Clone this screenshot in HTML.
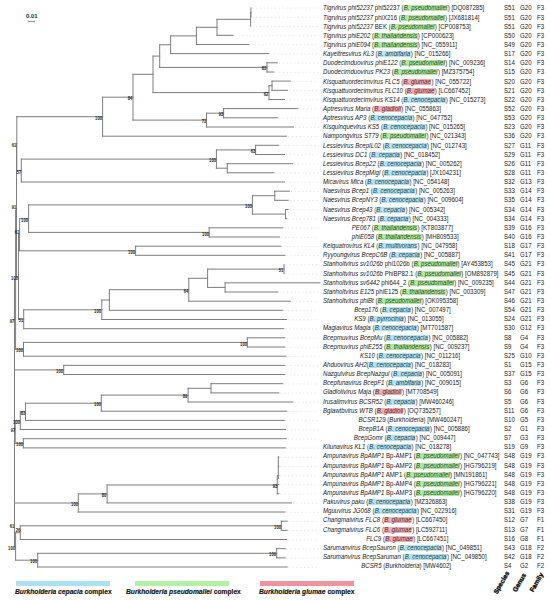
<!DOCTYPE html><html><head><meta charset="utf-8"><style>
html,body{margin:0;padding:0;background:#fff;}
body{width:550px;height:601px;position:relative;overflow:hidden;font-family:"Liberation Sans",sans-serif;}
.t{position:absolute;white-space:nowrap;font-size:6.60px;line-height:6.60px;color:#222;transform-origin:0 0;transform:scaleX(0.9242);}
.h{visibility:hidden}
.g{--c:#afe9a0;color:#2c4a28;} .b{--c:#b5e3f1;color:#243f4a;} .r{--c:#f3adb4;color:#4e2a2e;}
.hl{background:linear-gradient(transparent 10%, var(--c) 10%, var(--c) 93%, transparent 93%);}
.hl{padding:0 0.6px;margin-left:-0.4px;border-radius:1px;}
.c{position:absolute;white-space:nowrap;font-size:6.10px;line-height:6.10px;color:#222;}
.bs{position:absolute;font-size:4.8px;line-height:4.8px;color:#222;font-weight:bold;white-space:nowrap;transform-origin:100% 0;transform:scaleX(0.86);}
</style></head><body>

<svg width="550" height="601" style="position:absolute;left:0;top:0">
<line x1="252.4" y1="8.10" x2="319" y2="8.10" stroke="#dcdcdc" stroke-width="0.9" stroke-dasharray="1 2.8"/>
<line x1="252.4" y1="17.27" x2="319" y2="17.27" stroke="#dcdcdc" stroke-width="0.9" stroke-dasharray="1 2.8"/>
<line x1="252.1" y1="26.44" x2="319" y2="26.44" stroke="#dcdcdc" stroke-width="0.9" stroke-dasharray="1 2.8"/>
<line x1="234.7" y1="35.60" x2="319" y2="35.60" stroke="#dcdcdc" stroke-width="0.9" stroke-dasharray="1 2.8"/>
<line x1="250.7" y1="44.77" x2="319" y2="44.77" stroke="#dcdcdc" stroke-width="0.9" stroke-dasharray="1 2.8"/>
<line x1="270.4" y1="53.94" x2="319" y2="53.94" stroke="#dcdcdc" stroke-width="0.9" stroke-dasharray="1 2.8"/>
<line x1="279.0" y1="63.11" x2="319" y2="63.11" stroke="#dcdcdc" stroke-width="0.9" stroke-dasharray="1 2.8"/>
<line x1="275.5" y1="72.28" x2="319" y2="72.28" stroke="#dcdcdc" stroke-width="0.9" stroke-dasharray="1 2.8"/>
<line x1="292.0" y1="81.44" x2="319" y2="81.44" stroke="#dcdcdc" stroke-width="0.9" stroke-dasharray="1 2.8"/>
<line x1="289.2" y1="90.61" x2="319" y2="90.61" stroke="#dcdcdc" stroke-width="0.9" stroke-dasharray="1 2.8"/>
<line x1="286.2" y1="99.78" x2="319" y2="99.78" stroke="#dcdcdc" stroke-width="0.9" stroke-dasharray="1 2.8"/>
<line x1="299.5" y1="108.95" x2="319" y2="108.95" stroke="#dcdcdc" stroke-width="0.9" stroke-dasharray="1 2.8"/>
<line x1="279.5" y1="118.12" x2="319" y2="118.12" stroke="#dcdcdc" stroke-width="0.9" stroke-dasharray="1 2.8"/>
<line x1="295.3" y1="127.28" x2="319" y2="127.28" stroke="#dcdcdc" stroke-width="0.9" stroke-dasharray="1 2.8"/>
<line x1="288.3" y1="136.45" x2="319" y2="136.45" stroke="#dcdcdc" stroke-width="0.9" stroke-dasharray="1 2.8"/>
<line x1="280.5" y1="145.62" x2="319" y2="145.62" stroke="#dcdcdc" stroke-width="0.9" stroke-dasharray="1 2.8"/>
<line x1="286.2" y1="154.79" x2="319" y2="154.79" stroke="#dcdcdc" stroke-width="0.9" stroke-dasharray="1 2.8"/>
<line x1="294.2" y1="163.96" x2="319" y2="163.96" stroke="#dcdcdc" stroke-width="0.9" stroke-dasharray="1 2.8"/>
<line x1="275.7" y1="173.12" x2="319" y2="173.12" stroke="#dcdcdc" stroke-width="0.9" stroke-dasharray="1 2.8"/>
<line x1="286.2" y1="182.29" x2="319" y2="182.29" stroke="#dcdcdc" stroke-width="0.9" stroke-dasharray="1 2.8"/>
<line x1="291.0" y1="191.46" x2="319" y2="191.46" stroke="#dcdcdc" stroke-width="0.9" stroke-dasharray="1 2.8"/>
<line x1="289.9" y1="200.63" x2="319" y2="200.63" stroke="#dcdcdc" stroke-width="0.9" stroke-dasharray="1 2.8"/>
<line x1="289.9" y1="209.80" x2="319" y2="209.80" stroke="#dcdcdc" stroke-width="0.9" stroke-dasharray="1 2.8"/>
<line x1="288.5" y1="218.96" x2="319" y2="218.96" stroke="#dcdcdc" stroke-width="0.9" stroke-dasharray="1 2.8"/>
<line x1="284.5" y1="228.13" x2="319" y2="228.13" stroke="#dcdcdc" stroke-width="0.9" stroke-dasharray="1 2.8"/>
<line x1="281.1" y1="237.30" x2="319" y2="237.30" stroke="#dcdcdc" stroke-width="0.9" stroke-dasharray="1 2.8"/>
<line x1="282.7" y1="246.47" x2="319" y2="246.47" stroke="#dcdcdc" stroke-width="0.9" stroke-dasharray="1 2.8"/>
<line x1="286.6" y1="255.64" x2="319" y2="255.64" stroke="#dcdcdc" stroke-width="0.9" stroke-dasharray="1 2.8"/>
<line x1="285.5" y1="264.80" x2="319" y2="264.80" stroke="#dcdcdc" stroke-width="0.9" stroke-dasharray="1 2.8"/>
<line x1="285.5" y1="273.97" x2="319" y2="273.97" stroke="#dcdcdc" stroke-width="0.9" stroke-dasharray="1 2.8"/>
<line x1="279.5" y1="292.31" x2="319" y2="292.31" stroke="#dcdcdc" stroke-width="0.9" stroke-dasharray="1 2.8"/>
<line x1="292.0" y1="301.48" x2="319" y2="301.48" stroke="#dcdcdc" stroke-width="0.9" stroke-dasharray="1 2.8"/>
<line x1="284.5" y1="310.64" x2="319" y2="310.64" stroke="#dcdcdc" stroke-width="0.9" stroke-dasharray="1 2.8"/>
<line x1="288.3" y1="319.81" x2="319" y2="319.81" stroke="#dcdcdc" stroke-width="0.9" stroke-dasharray="1 2.8"/>
<line x1="285.5" y1="328.98" x2="319" y2="328.98" stroke="#dcdcdc" stroke-width="0.9" stroke-dasharray="1 2.8"/>
<line x1="286.5" y1="338.15" x2="319" y2="338.15" stroke="#dcdcdc" stroke-width="0.9" stroke-dasharray="1 2.8"/>
<line x1="286.5" y1="347.32" x2="319" y2="347.32" stroke="#dcdcdc" stroke-width="0.9" stroke-dasharray="1 2.8"/>
<line x1="287.8" y1="356.48" x2="319" y2="356.48" stroke="#dcdcdc" stroke-width="0.9" stroke-dasharray="1 2.8"/>
<line x1="286.5" y1="365.65" x2="319" y2="365.65" stroke="#dcdcdc" stroke-width="0.9" stroke-dasharray="1 2.8"/>
<line x1="286.5" y1="374.82" x2="319" y2="374.82" stroke="#dcdcdc" stroke-width="0.9" stroke-dasharray="1 2.8"/>
<line x1="284.5" y1="383.99" x2="319" y2="383.99" stroke="#dcdcdc" stroke-width="0.9" stroke-dasharray="1 2.8"/>
<line x1="280.5" y1="393.16" x2="319" y2="393.16" stroke="#dcdcdc" stroke-width="0.9" stroke-dasharray="1 2.8"/>
<line x1="294.6" y1="402.32" x2="319" y2="402.32" stroke="#dcdcdc" stroke-width="0.9" stroke-dasharray="1 2.8"/>
<line x1="288.6" y1="411.49" x2="319" y2="411.49" stroke="#dcdcdc" stroke-width="0.9" stroke-dasharray="1 2.8"/>
<line x1="286.0" y1="420.66" x2="319" y2="420.66" stroke="#dcdcdc" stroke-width="0.9" stroke-dasharray="1 2.8"/>
<line x1="287.2" y1="429.83" x2="319" y2="429.83" stroke="#dcdcdc" stroke-width="0.9" stroke-dasharray="1 2.8"/>
<line x1="288.0" y1="439.00" x2="319" y2="439.00" stroke="#dcdcdc" stroke-width="0.9" stroke-dasharray="1 2.8"/>
<line x1="287.1" y1="448.16" x2="319" y2="448.16" stroke="#dcdcdc" stroke-width="0.9" stroke-dasharray="1 2.8"/>
<line x1="280.5" y1="457.33" x2="319" y2="457.33" stroke="#dcdcdc" stroke-width="0.9" stroke-dasharray="1 2.8"/>
<line x1="280.5" y1="466.50" x2="319" y2="466.50" stroke="#dcdcdc" stroke-width="0.9" stroke-dasharray="1 2.8"/>
<line x1="280.5" y1="475.67" x2="319" y2="475.67" stroke="#dcdcdc" stroke-width="0.9" stroke-dasharray="1 2.8"/>
<line x1="280.5" y1="484.84" x2="319" y2="484.84" stroke="#dcdcdc" stroke-width="0.9" stroke-dasharray="1 2.8"/>
<line x1="280.5" y1="494.00" x2="319" y2="494.00" stroke="#dcdcdc" stroke-width="0.9" stroke-dasharray="1 2.8"/>
<line x1="293.0" y1="503.17" x2="319" y2="503.17" stroke="#dcdcdc" stroke-width="0.9" stroke-dasharray="1 2.8"/>
<line x1="286.6" y1="512.34" x2="319" y2="512.34" stroke="#dcdcdc" stroke-width="0.9" stroke-dasharray="1 2.8"/>
<line x1="288.9" y1="521.51" x2="319" y2="521.51" stroke="#dcdcdc" stroke-width="0.9" stroke-dasharray="1 2.8"/>
<line x1="288.9" y1="530.68" x2="319" y2="530.68" stroke="#dcdcdc" stroke-width="0.9" stroke-dasharray="1 2.8"/>
<line x1="288.4" y1="539.84" x2="319" y2="539.84" stroke="#dcdcdc" stroke-width="0.9" stroke-dasharray="1 2.8"/>
<line x1="287.1" y1="549.01" x2="319" y2="549.01" stroke="#dcdcdc" stroke-width="0.9" stroke-dasharray="1 2.8"/>
<line x1="287.1" y1="558.18" x2="319" y2="558.18" stroke="#dcdcdc" stroke-width="0.9" stroke-dasharray="1 2.8"/>
<line x1="288.9" y1="567.35" x2="319" y2="567.35" stroke="#dcdcdc" stroke-width="0.9" stroke-dasharray="1 2.8"/>
<g stroke="#7e7e7e" stroke-width="1" fill="none" stroke-linecap="square">
<line x1="250.9" y1="7.8" x2="250.9" y2="17.0"/>
<line x1="250.6" y1="12.4" x2="250.6" y2="26.1"/>
<line x1="250.6" y1="12.4" x2="250.9" y2="12.4"/>
<line x1="217.0" y1="19.3" x2="217.0" y2="35.3"/>
<line x1="217.0" y1="19.3" x2="250.6" y2="19.3"/>
<line x1="196.4" y1="27.3" x2="196.4" y2="44.5"/>
<line x1="196.4" y1="27.3" x2="217.0" y2="27.3"/>
<line x1="170.6" y1="35.9" x2="170.6" y2="53.6"/>
<line x1="170.6" y1="35.9" x2="196.4" y2="35.9"/>
<line x1="267.0" y1="62.8" x2="267.0" y2="72.0"/>
<line x1="159.7" y1="44.8" x2="159.7" y2="67.4"/>
<line x1="159.7" y1="44.8" x2="170.6" y2="44.8"/>
<line x1="159.7" y1="67.4" x2="267.0" y2="67.4"/>
<line x1="272.0" y1="81.1" x2="272.0" y2="90.3"/>
<line x1="269.0" y1="85.7" x2="269.0" y2="99.5"/>
<line x1="269.0" y1="85.7" x2="272.0" y2="85.7"/>
<line x1="153.0" y1="56.1" x2="153.0" y2="92.6"/>
<line x1="153.0" y1="56.1" x2="159.7" y2="56.1"/>
<line x1="153.0" y1="92.6" x2="269.0" y2="92.6"/>
<line x1="223.6" y1="108.6" x2="223.6" y2="117.8"/>
<line x1="206.5" y1="113.2" x2="206.5" y2="127.0"/>
<line x1="206.5" y1="113.2" x2="223.6" y2="113.2"/>
<line x1="133.0" y1="74.3" x2="133.0" y2="120.1"/>
<line x1="133.0" y1="74.3" x2="153.0" y2="74.3"/>
<line x1="133.0" y1="120.1" x2="206.5" y2="120.1"/>
<line x1="102.6" y1="97.2" x2="102.6" y2="136.2"/>
<line x1="102.6" y1="97.2" x2="133.0" y2="97.2"/>
<line x1="255.6" y1="145.3" x2="255.6" y2="154.5"/>
<line x1="227.3" y1="163.7" x2="227.3" y2="172.8"/>
<line x1="216.4" y1="149.9" x2="216.4" y2="168.2"/>
<line x1="216.4" y1="149.9" x2="255.6" y2="149.9"/>
<line x1="216.4" y1="168.2" x2="227.3" y2="168.2"/>
<line x1="21.3" y1="159.1" x2="21.3" y2="182.0"/>
<line x1="21.3" y1="159.1" x2="216.4" y2="159.1"/>
<line x1="16.8" y1="116.7" x2="16.8" y2="170.5"/>
<line x1="16.8" y1="116.7" x2="102.6" y2="116.7"/>
<line x1="16.8" y1="170.5" x2="21.3" y2="170.5"/>
<line x1="274.8" y1="191.2" x2="274.8" y2="200.3"/>
<line x1="285.5" y1="209.5" x2="285.5" y2="218.7"/>
<line x1="252.4" y1="195.7" x2="252.4" y2="214.1"/>
<line x1="252.4" y1="195.7" x2="274.8" y2="195.7"/>
<line x1="252.4" y1="214.1" x2="285.5" y2="214.1"/>
<line x1="209.2" y1="227.8" x2="209.2" y2="237.0"/>
<line x1="28.6" y1="204.9" x2="28.6" y2="232.4"/>
<line x1="28.6" y1="204.9" x2="252.4" y2="204.9"/>
<line x1="28.6" y1="232.4" x2="209.2" y2="232.4"/>
<line x1="135.6" y1="246.2" x2="135.6" y2="255.3"/>
<line x1="19.6" y1="218.7" x2="19.6" y2="250.8"/>
<line x1="19.6" y1="218.7" x2="28.6" y2="218.7"/>
<line x1="19.6" y1="250.8" x2="135.6" y2="250.8"/>
<line x1="284.0" y1="264.5" x2="284.0" y2="273.7"/>
<line x1="225.1" y1="282.8" x2="225.1" y2="292.0"/>
<line x1="207.6" y1="269.1" x2="207.6" y2="287.4"/>
<line x1="207.6" y1="269.1" x2="284.0" y2="269.1"/>
<line x1="207.6" y1="287.4" x2="225.1" y2="287.4"/>
<line x1="188.8" y1="278.3" x2="188.8" y2="301.2"/>
<line x1="188.8" y1="278.3" x2="207.6" y2="278.3"/>
<line x1="109.4" y1="289.7" x2="109.4" y2="310.3"/>
<line x1="109.4" y1="289.7" x2="188.8" y2="289.7"/>
<line x1="101.8" y1="300.0" x2="101.8" y2="319.5"/>
<line x1="101.8" y1="300.0" x2="109.4" y2="300.0"/>
<line x1="23.7" y1="309.8" x2="23.7" y2="328.7"/>
<line x1="23.7" y1="309.8" x2="101.8" y2="309.8"/>
<line x1="18.5" y1="234.7" x2="18.5" y2="319.2"/>
<line x1="18.5" y1="234.7" x2="19.6" y2="234.7"/>
<line x1="18.5" y1="319.2" x2="23.7" y2="319.2"/>
<line x1="16.5" y1="143.6" x2="16.5" y2="277.0"/>
<line x1="16.5" y1="143.6" x2="16.8" y2="143.6"/>
<line x1="16.5" y1="277.0" x2="18.5" y2="277.0"/>
<line x1="247.3" y1="337.8" x2="247.3" y2="347.0"/>
<line x1="23.5" y1="342.4" x2="23.5" y2="356.2"/>
<line x1="23.5" y1="342.4" x2="247.3" y2="342.4"/>
<line x1="63.7" y1="365.4" x2="63.7" y2="374.5"/>
<line x1="211.0" y1="383.7" x2="211.0" y2="392.9"/>
<line x1="188.1" y1="388.3" x2="188.1" y2="402.0"/>
<line x1="188.1" y1="388.3" x2="211.0" y2="388.3"/>
<line x1="101.3" y1="395.1" x2="101.3" y2="411.2"/>
<line x1="101.3" y1="395.1" x2="188.1" y2="395.1"/>
<line x1="25.5" y1="403.2" x2="25.5" y2="420.4"/>
<line x1="25.5" y1="403.2" x2="101.3" y2="403.2"/>
<line x1="20.3" y1="411.8" x2="20.3" y2="429.5"/>
<line x1="20.3" y1="411.8" x2="25.5" y2="411.8"/>
<line x1="23.3" y1="438.7" x2="23.3" y2="447.9"/>
<line x1="15.2" y1="420.6" x2="15.2" y2="443.3"/>
<line x1="15.2" y1="420.6" x2="20.3" y2="420.6"/>
<line x1="15.2" y1="443.3" x2="23.3" y2="443.3"/>
<line x1="15.6" y1="210.3" x2="15.6" y2="349.3"/>
<line x1="15.6" y1="210.3" x2="16.5" y2="210.3"/>
<line x1="15.6" y1="349.3" x2="23.5" y2="349.3"/>
<line x1="14.5" y1="279.8" x2="14.5" y2="369.9"/>
<line x1="14.5" y1="279.8" x2="15.6" y2="279.8"/>
<line x1="14.5" y1="369.9" x2="63.7" y2="369.9"/>
<line x1="107.1" y1="485.0" x2="107.1" y2="502.9"/>
<line x1="107.1" y1="485.0" x2="277.3" y2="485.0"/>
<line x1="78.3" y1="493.9" x2="78.3" y2="512.0"/>
<line x1="78.3" y1="493.9" x2="107.1" y2="493.9"/>
<line x1="281.3" y1="521.2" x2="281.3" y2="530.4"/>
<line x1="20.3" y1="525.8" x2="20.3" y2="539.5"/>
<line x1="20.3" y1="525.8" x2="281.3" y2="525.8"/>
<line x1="276.7" y1="548.7" x2="276.7" y2="557.9"/>
<line x1="37.7" y1="553.3" x2="37.7" y2="567.0"/>
<line x1="37.7" y1="553.3" x2="276.7" y2="553.3"/>
<line x1="15.6" y1="532.7" x2="15.6" y2="560.2"/>
<line x1="15.6" y1="532.7" x2="20.3" y2="532.7"/>
<line x1="15.6" y1="560.2" x2="37.7" y2="560.2"/>
<line x1="14.5" y1="503.0" x2="14.5" y2="546.4"/>
<line x1="14.5" y1="503.0" x2="78.3" y2="503.0"/>
<line x1="14.5" y1="546.4" x2="15.6" y2="546.4"/>
<line x1="14.5" y1="324.9" x2="14.5" y2="524.7"/>
<line x1="14.5" y1="324.9" x2="14.5" y2="324.9"/>
<line x1="14.5" y1="432.0" x2="15.2" y2="432.0"/>
<line x1="14.5" y1="524.7" x2="14.5" y2="524.7"/>
<line x1="217.0" y1="35.3" x2="233.0" y2="35.3"/>
<line x1="196.4" y1="44.5" x2="249.0" y2="44.5"/>
<line x1="170.6" y1="53.6" x2="268.7" y2="53.6"/>
<line x1="267.0" y1="62.8" x2="277.3" y2="62.8"/>
<line x1="267.0" y1="72.0" x2="273.8" y2="72.0"/>
<line x1="272.0" y1="81.1" x2="290.3" y2="81.1"/>
<line x1="272.0" y1="90.3" x2="287.5" y2="90.3"/>
<line x1="269.0" y1="99.5" x2="284.5" y2="99.5"/>
<line x1="223.6" y1="108.6" x2="297.8" y2="108.6"/>
<line x1="223.6" y1="117.8" x2="277.8" y2="117.8"/>
<line x1="206.5" y1="127.0" x2="293.6" y2="127.0"/>
<line x1="102.6" y1="136.2" x2="286.6" y2="136.2"/>
<line x1="255.6" y1="145.3" x2="278.8" y2="145.3"/>
<line x1="255.6" y1="154.5" x2="284.5" y2="154.5"/>
<line x1="227.3" y1="163.7" x2="292.5" y2="163.7"/>
<line x1="227.3" y1="172.8" x2="274.0" y2="172.8"/>
<line x1="21.3" y1="182.0" x2="284.5" y2="182.0"/>
<line x1="274.8" y1="191.2" x2="289.3" y2="191.2"/>
<line x1="274.8" y1="200.3" x2="288.2" y2="200.3"/>
<line x1="285.5" y1="209.5" x2="288.2" y2="209.5"/>
<line x1="285.5" y1="218.7" x2="286.8" y2="218.7"/>
<line x1="209.2" y1="227.8" x2="282.8" y2="227.8"/>
<line x1="209.2" y1="237.0" x2="279.4" y2="237.0"/>
<line x1="135.6" y1="246.2" x2="281.0" y2="246.2"/>
<line x1="135.6" y1="255.3" x2="284.9" y2="255.3"/>
<line x1="225.1" y1="282.8" x2="319.8" y2="282.8"/>
<line x1="225.1" y1="292.0" x2="277.8" y2="292.0"/>
<line x1="188.8" y1="301.2" x2="290.3" y2="301.2"/>
<line x1="109.4" y1="310.3" x2="282.8" y2="310.3"/>
<line x1="101.8" y1="319.5" x2="286.6" y2="319.5"/>
<line x1="23.7" y1="328.7" x2="283.8" y2="328.7"/>
<line x1="247.3" y1="337.8" x2="284.8" y2="337.8"/>
<line x1="247.3" y1="347.0" x2="284.8" y2="347.0"/>
<line x1="23.5" y1="356.2" x2="286.1" y2="356.2"/>
<line x1="63.7" y1="365.4" x2="284.8" y2="365.4"/>
<line x1="63.7" y1="374.5" x2="284.8" y2="374.5"/>
<line x1="211.0" y1="383.7" x2="282.8" y2="383.7"/>
<line x1="211.0" y1="392.9" x2="278.8" y2="392.9"/>
<line x1="188.1" y1="402.0" x2="292.9" y2="402.0"/>
<line x1="101.3" y1="411.2" x2="286.9" y2="411.2"/>
<line x1="25.5" y1="420.4" x2="284.3" y2="420.4"/>
<line x1="20.3" y1="429.5" x2="285.5" y2="429.5"/>
<line x1="23.3" y1="438.7" x2="286.3" y2="438.7"/>
<line x1="23.3" y1="447.9" x2="285.4" y2="447.9"/>
<line x1="278.3" y1="457.0" x2="278.8" y2="457.0"/>
<line x1="278.3" y1="466.2" x2="278.8" y2="466.2"/>
<line x1="278.3" y1="475.4" x2="278.8" y2="475.4"/>
<line x1="277.3" y1="484.5" x2="278.8" y2="484.5"/>
<line x1="277.3" y1="493.7" x2="278.8" y2="493.7"/>
<line x1="107.1" y1="502.9" x2="291.3" y2="502.9"/>
<line x1="78.3" y1="512.0" x2="284.9" y2="512.0"/>
<line x1="281.3" y1="521.2" x2="287.2" y2="521.2"/>
<line x1="281.3" y1="530.4" x2="287.2" y2="530.4"/>
<line x1="20.3" y1="539.5" x2="286.7" y2="539.5"/>
<line x1="276.7" y1="548.7" x2="285.4" y2="548.7"/>
<line x1="276.7" y1="557.9" x2="285.4" y2="557.9"/>
<line x1="37.7" y1="567.0" x2="287.2" y2="567.0"/>
<line x1="278.3" y1="457.0" x2="278.3" y2="478.5"/>
<line x1="277.3" y1="475.5" x2="277.3" y2="493.7"/>
</g>
<line x1="28.3" y1="21.5" x2="34.5" y2="21.5" stroke="#777" stroke-width="0.8"/>
<line x1="28.3" y1="20.5" x2="28.3" y2="22.3" stroke="#888" stroke-width="0.6"/>
<line x1="34.5" y1="20.5" x2="34.5" y2="22.3" stroke="#888" stroke-width="0.6"/>
</svg>
<div class="c" style="left:25.9px;top:13.0px;font-size:6.0px;color:#333;font-weight:bold">0.01</div>
<div class="bs" style="right:283.30px;top:67.49px">83</div>
<div class="bs" style="right:281.30px;top:92.70px">62</div>
<div class="bs" style="right:326.70px;top:113.33px">93</div>
<div class="bs" style="right:343.80px;top:120.21px">72</div>
<div class="bs" style="right:417.30px;top:97.32px">84</div>
<div class="bs" style="right:447.70px;top:116.79px">100</div>
<div class="bs" style="right:294.70px;top:150.00px">63</div>
<div class="bs" style="right:333.90px;top:159.17px">100</div>
<div class="bs" style="right:529.00px;top:170.63px">57</div>
<div class="bs" style="right:533.50px;top:143.71px">61</div>
<div class="bs" style="right:297.90px;top:205.01px">100</div>
<div class="bs" style="right:341.10px;top:232.52px">100</div>
<div class="bs" style="right:521.70px;top:218.76px">100</div>
<div class="bs" style="right:414.70px;top:250.85px">100</div>
<div class="bs" style="right:530.70px;top:231.25px">61</div>
<div class="bs" style="right:266.30px;top:269.19px">51</div>
<div class="bs" style="right:361.50px;top:289.82px">64</div>
<div class="bs" style="right:448.50px;top:309.87px">100</div>
<div class="bs" style="right:526.60px;top:319.33px">51</div>
<div class="bs" style="right:531.80px;top:277.07px">100</div>
<div class="bs" style="right:533.80px;top:205.75px">91</div>
<div class="bs" style="right:303.00px;top:342.53px">100</div>
<div class="bs" style="right:526.80px;top:349.41px">100</div>
<div class="bs" style="right:486.60px;top:370.04px">100</div>
<div class="bs" style="right:362.20px;top:395.25px">89</div>
<div class="bs" style="right:449.00px;top:403.27px">100</div>
<div class="bs" style="right:524.80px;top:411.87px">83</div>
<div class="bs" style="right:530.00px;top:420.75px">100</div>
<div class="bs" style="right:527.00px;top:443.38px">100</div>
<div class="bs" style="right:535.10px;top:428.75px">97</div>
<div class="bs" style="right:535.80px;top:320.45px">97</div>
<div class="bs" style="right:273.00px;top:485.10px">93</div>
<div class="bs" style="right:443.20px;top:494.04px">80</div>
<div class="bs" style="right:472.00px;top:503.09px">100</div>
<div class="bs" style="right:269.00px;top:525.89px">100</div>
<div class="bs" style="right:530.00px;top:528.75px">26</div>
<div class="bs" style="right:273.60px;top:553.40px">100</div>
<div class="bs" style="right:512.60px;top:560.27px">100</div>
<div class="bs" style="right:534.70px;top:546.52px">100</div>
<div class="bs" style="right:535.80px;top:524.80px">61</div>
<div class="t" style="left:322.7px;top:5.46px"><i>Tigrvirus phi52237</i> phi52237 (<i class="hl g">B. pseudomallei</i>) [DQ087285]</div>
<div class="t" style="left:504px;top:5.46px">S51</div>
<div class="t" style="left:519.8px;top:5.46px">G20</div>
<div class="t" style="left:537.3px;top:5.46px">F3</div>
<div class="t" style="left:322.7px;top:15.46px"><i>Tigrvirus phi52237</i> phiX216 (<i class="hl g">B. pseudomallei</i>) [JX681814]</div>
<div class="t" style="left:504px;top:15.46px">S51</div>
<div class="t" style="left:519.8px;top:15.46px">G20</div>
<div class="t" style="left:537.3px;top:15.46px">F3</div>
<div class="t" style="left:322.7px;top:24.46px"><i>Tigrvirus phi52237</i> BEK (<i class="hl g">B. pseudomallei</i>) [CP008753]</div>
<div class="t" style="left:504px;top:24.46px">S51</div>
<div class="t" style="left:519.8px;top:24.46px">G20</div>
<div class="t" style="left:537.3px;top:24.46px">F3</div>
<div class="t" style="left:322.7px;top:33.46px"><i>Tigrvirus phiE202</i> (<i class="hl g">B. thailandensis</i>) [CP000623]</div>
<div class="t" style="left:504px;top:33.46px">S50</div>
<div class="t" style="left:519.8px;top:33.46px">G20</div>
<div class="t" style="left:537.3px;top:33.46px">F3</div>
<div class="t" style="left:322.7px;top:42.46px"><i>Tigrvirus phiE094</i> (<i class="hl g">B. thailandensis</i>) [NC_055911]</div>
<div class="t" style="left:504px;top:42.46px">S49</div>
<div class="t" style="left:519.8px;top:42.46px">G20</div>
<div class="t" style="left:537.3px;top:42.46px">F3</div>
<div class="t" style="left:322.7px;top:51.46px"><i>Kayeltresvirus KL3</i> (<i class="hl b">B. ambifaria</i>) [NC_015266]</div>
<div class="t" style="left:504px;top:51.46px">S17</div>
<div class="t" style="left:519.8px;top:51.46px">G20</div>
<div class="t" style="left:537.3px;top:51.46px">F3</div>
<div class="t" style="left:322.7px;top:60.46px"><i>Duodecimduovirus phiE122</i> (<i class="hl g">B. pseudomallei</i>) [NC_009236]</div>
<div class="t" style="left:504px;top:60.46px">S14</div>
<div class="t" style="left:519.8px;top:60.46px">G20</div>
<div class="t" style="left:537.3px;top:60.46px">F3</div>
<div class="t" style="left:322.7px;top:69.46px"><i>Duodecimduovirus PK23</i> (<i class="hl g">B. pseudomallei</i>) [MZ375754]</div>
<div class="t" style="left:504px;top:69.46px">S15</div>
<div class="t" style="left:519.8px;top:69.46px">G20</div>
<div class="t" style="left:537.3px;top:69.46px">F3</div>
<div class="t" style="left:322.7px;top:79.46px"><i>Kisquattuordecimvirus FLC5</i> (<i class="hl r">B. glumae</i>) [NC_055722]</div>
<div class="t" style="left:504px;top:79.46px">S20</div>
<div class="t" style="left:519.8px;top:79.46px">G20</div>
<div class="t" style="left:537.3px;top:79.46px">F3</div>
<div class="t" style="left:322.7px;top:88.46px"><i>Kisquattuordecimvirus FLC10</i> (<i class="hl r">B. glumae</i>) [LC667452]</div>
<div class="t" style="left:504px;top:88.46px">S21</div>
<div class="t" style="left:519.8px;top:88.46px">G20</div>
<div class="t" style="left:537.3px;top:88.46px">F3</div>
<div class="t" style="left:322.7px;top:97.46px"><i>Kisquattuordecimvirus KS14</i> (<i class="hl b">B. cenocepacia</i>) [NC_015273]</div>
<div class="t" style="left:504px;top:97.46px">S22</div>
<div class="t" style="left:519.8px;top:97.46px">G20</div>
<div class="t" style="left:537.3px;top:97.46px">F3</div>
<div class="t" style="left:322.7px;top:106.46px"><i>Aptresvirus Maria</i> (<i class="hl r">B. gladioli</i>) [NC_055863]</div>
<div class="t" style="left:504px;top:106.46px">S52</div>
<div class="t" style="left:519.8px;top:106.46px">G20</div>
<div class="t" style="left:537.3px;top:106.46px">F3</div>
<div class="t" style="left:322.7px;top:115.46px"><i>Aptresvirus AP3</i> (<i class="hl b">B. cenocepacia</i>) [NC_047752]</div>
<div class="t" style="left:504px;top:115.46px">S53</div>
<div class="t" style="left:519.8px;top:115.46px">G20</div>
<div class="t" style="left:537.3px;top:115.46px">F3</div>
<div class="t" style="left:322.7px;top:124.46px"><i>Kisquinquevirus KS5</i> (<i class="hl b">B. cenocepacia</i>) [NC_015265]</div>
<div class="t" style="left:504px;top:124.46px">S23</div>
<div class="t" style="left:519.8px;top:124.46px">G20</div>
<div class="t" style="left:537.3px;top:124.46px">F3</div>
<div class="t" style="left:322.7px;top:133.46px"><i>Nampongvirus ST79</i> (<i class="hl g">B. pseudomallei</i>) [NC_021343]</div>
<div class="t" style="left:504px;top:133.46px">S36</div>
<div class="t" style="left:519.8px;top:133.46px">G20</div>
<div class="t" style="left:537.3px;top:133.46px">F3</div>
<div class="t" style="left:322.7px;top:143.46px"><i>Lessievirus BcepIL02</i> (<i class="hl b">B. cenocepacia</i>) [NC_012743]</div>
<div class="t" style="left:504px;top:143.46px">S27</div>
<div class="t" style="left:519.8px;top:143.46px">G11</div>
<div class="t" style="left:537.3px;top:143.46px">F3</div>
<div class="t" style="left:322.7px;top:152.46px"><i>Lessievirus DC1</i> (<i class="hl b">B. cepacia</i>) [NC_018452]</div>
<div class="t" style="left:504px;top:152.46px">S29</div>
<div class="t" style="left:519.8px;top:152.46px">G11</div>
<div class="t" style="left:537.3px;top:152.46px">F3</div>
<div class="t" style="left:322.7px;top:161.46px"><i>Lessievirus Bcep22</i> (<i class="hl b">B. cenocepacia</i>) [NC_005262]</div>
<div class="t" style="left:504px;top:161.46px">S26</div>
<div class="t" style="left:519.8px;top:161.46px">G11</div>
<div class="t" style="left:537.3px;top:161.46px">F3</div>
<div class="t" style="left:322.7px;top:170.46px"><i>Lessievirus BcepMigl</i> (<i class="hl b">B. cenocepacia</i>) [JX104231]</div>
<div class="t" style="left:504px;top:170.46px">S28</div>
<div class="t" style="left:519.8px;top:170.46px">G11</div>
<div class="t" style="left:537.3px;top:170.46px">F3</div>
<div class="t" style="left:322.7px;top:179.46px"><i>Micavirus Mica</i> (<i class="hl b">B. cenocepacia</i>) [NC_054148]</div>
<div class="t" style="left:504px;top:179.46px">S32</div>
<div class="t" style="left:519.8px;top:179.46px">G13</div>
<div class="t" style="left:537.3px;top:179.46px">F3</div>
<div class="t" style="left:322.7px;top:188.46px"><i>Naesvirus Bcep1</i> (<i class="hl b">B. cenocepacia</i>) [NC_005263]</div>
<div class="t" style="left:504px;top:188.46px">S33</div>
<div class="t" style="left:519.8px;top:188.46px">G14</div>
<div class="t" style="left:537.3px;top:188.46px">F3</div>
<div class="t" style="left:322.7px;top:197.46px"><i>Naesvirus BcepNY3</i> (<i class="hl b">B. cenocepacia</i>) [NC_009604]</div>
<div class="t" style="left:504px;top:197.46px">S35</div>
<div class="t" style="left:519.8px;top:197.46px">G14</div>
<div class="t" style="left:537.3px;top:197.46px">F3</div>
<div class="t" style="left:322.7px;top:207.46px"><i>Naesvirus Bcep43</i> (<i class="hl b">B. cepacia</i>) [NC_005342]</div>
<div class="t" style="left:504px;top:207.46px">S34</div>
<div class="t" style="left:519.8px;top:207.46px">G14</div>
<div class="t" style="left:537.3px;top:207.46px">F3</div>
<div class="t" style="left:322.7px;top:216.46px"><i>Naesvirus Bcep781</i> (<i class="hl b">B. cepacia</i>) [NC_004333]</div>
<div class="t" style="left:504px;top:216.46px">S34</div>
<div class="t" style="left:519.8px;top:216.46px">G14</div>
<div class="t" style="left:537.3px;top:216.46px">F3</div>
<div class="t" style="left:322.7px;top:225.46px"><i class="h" style="margin-right:0.0px">Naesvirus </i><i>PE067</i> (<i class="hl g">B. thailandensis</i>) [KT803877]</div>
<div class="t" style="left:504px;top:225.46px">S39</div>
<div class="t" style="left:519.8px;top:225.46px">G16</div>
<div class="t" style="left:537.3px;top:225.46px">F3</div>
<div class="t" style="left:322.7px;top:234.46px"><i class="h" style="margin-right:0.0px">Naesvirus </i><i>phiE058</i> (<i class="hl g">B. thailandensis</i>) [MH809533]</div>
<div class="t" style="left:504px;top:234.46px">S40</div>
<div class="t" style="left:519.8px;top:234.46px">G16</div>
<div class="t" style="left:537.3px;top:234.46px">F3</div>
<div class="t" style="left:322.7px;top:243.46px"><i>Kelquatrovirus KL4</i> (<i class="hl b">B. multivorans</i>) [NC_047958]</div>
<div class="t" style="left:504px;top:243.46px">S18</div>
<div class="t" style="left:519.8px;top:243.46px">G17</div>
<div class="t" style="left:537.3px;top:243.46px">F3</div>
<div class="t" style="left:322.7px;top:252.46px"><i>Ryyoungvirus BcepC6B</i> (<i class="hl b">B. cepacia</i>) [NC_005887]</div>
<div class="t" style="left:504px;top:252.46px">S41</div>
<div class="t" style="left:519.8px;top:252.46px">G17</div>
<div class="t" style="left:537.3px;top:252.46px">F3</div>
<div class="t" style="left:322.7px;top:261.46px"><i>Stanholtvirus sv1026b</i> phi1026b (<i class="hl g">B. pseudomallei</i>) [AY453853]</div>
<div class="t" style="left:504px;top:261.46px">S45</div>
<div class="t" style="left:519.8px;top:261.46px">G21</div>
<div class="t" style="left:537.3px;top:261.46px">F3</div>
<div class="t" style="left:322.7px;top:271.46px"><i>Stanholtvirus sv1026b</i> PhiBP82.1 (<i class="hl g">B. pseudomallei</i>) [OM892879]</div>
<div class="t" style="left:504px;top:271.46px">S45</div>
<div class="t" style="left:519.8px;top:271.46px">G21</div>
<div class="t" style="left:537.3px;top:271.46px">F3</div>
<div class="t" style="left:322.7px;top:280.46px"><i>Stanholtvirus sv6442</i> phi644_2 (<i class="hl g">B. pseudomallei</i>) [NC_009235]</div>
<div class="t" style="left:504px;top:280.46px">S44</div>
<div class="t" style="left:519.8px;top:280.46px">G21</div>
<div class="t" style="left:537.3px;top:280.46px">F3</div>
<div class="t" style="left:322.7px;top:289.46px"><i>Stanholtvirus E125</i> phiE125 (<i class="hl g">B. thailandensis</i>) [NC_003309]</div>
<div class="t" style="left:504px;top:289.46px">S47</div>
<div class="t" style="left:519.8px;top:289.46px">G21</div>
<div class="t" style="left:537.3px;top:289.46px">F3</div>
<div class="t" style="left:322.7px;top:298.46px"><i>Stanholtvirus phiBt</i> (<i class="hl g">B. pseudomallei</i>) [OK095358]</div>
<div class="t" style="left:504px;top:298.46px">S46</div>
<div class="t" style="left:519.8px;top:298.46px">G21</div>
<div class="t" style="left:537.3px;top:298.46px">F3</div>
<div class="t" style="left:322.7px;top:307.46px"><i class="h" style="margin-right:0.0px">Magiavirus </i><i>Bcep176</i> (<i class="hl b">B. cepacia</i>) [NC_007497]</div>
<div class="t" style="left:504px;top:307.46px">S54</div>
<div class="t" style="left:519.8px;top:307.46px">G21</div>
<div class="t" style="left:537.3px;top:307.46px">F3</div>
<div class="t" style="left:322.7px;top:316.46px"><i class="h" style="margin-right:0.0px">Magiavirus </i><i>KS9</i> (<i class="hl b">B. pyrrocinia</i>) [NC_013055]</div>
<div class="t" style="left:504px;top:316.46px">S24</div>
<div class="t" style="left:519.8px;top:316.46px">G21</div>
<div class="t" style="left:537.3px;top:316.46px">F3</div>
<div class="t" style="left:322.7px;top:325.46px"><i>Magiavirus Magia</i> (<i class="hl b">B. cenocepacia</i>) [MT701587]</div>
<div class="t" style="left:504px;top:325.46px">S30</div>
<div class="t" style="left:519.8px;top:325.46px">G12</div>
<div class="t" style="left:537.3px;top:325.46px">F3</div>
<div class="t" style="left:322.7px;top:335.46px"><i>Bcepmuvirus BcepMu</i> (<i class="hl b">B. cenocepacia</i>) [NC_005882]</div>
<div class="t" style="left:504px;top:335.46px">S8</div>
<div class="t" style="left:519.8px;top:335.46px">G4</div>
<div class="t" style="left:537.3px;top:335.46px">F3</div>
<div class="t" style="left:322.7px;top:344.46px"><i>Bcepmuvirus phiE255</i> (<i class="hl g">B. thailandensis</i>) [NC_009237]</div>
<div class="t" style="left:504px;top:344.46px">S9</div>
<div class="t" style="left:519.8px;top:344.46px">G4</div>
<div class="t" style="left:537.3px;top:344.46px">F3</div>
<div class="t" style="left:322.7px;top:353.46px"><i class="h" style="margin-right:0.0px">Bcepmuvirus </i><i>KS10</i> (<i class="hl b">B. cenocepacia</i>) [NC_011216]</div>
<div class="t" style="left:504px;top:353.46px">S25</div>
<div class="t" style="left:519.8px;top:353.46px">G10</div>
<div class="t" style="left:537.3px;top:353.46px">F3</div>
<div class="t" style="left:322.7px;top:362.46px"><i>Ahduovirus AH2</i>(<i class="hl b">B. cenocepacia</i>) [NC_018283]</div>
<div class="t" style="left:504px;top:362.46px">S1</div>
<div class="t" style="left:519.8px;top:362.46px">G15</div>
<div class="t" style="left:537.3px;top:362.46px">F3</div>
<div class="t" style="left:322.7px;top:371.46px"><i>Nazgulvirus BcepNazgul</i> (<i class="hl b">B. cepacia</i>) [NC_005091]</div>
<div class="t" style="left:504px;top:371.46px">S37</div>
<div class="t" style="left:519.8px;top:371.46px">G15</div>
<div class="t" style="left:537.3px;top:371.46px">F3</div>
<div class="t" style="left:322.7px;top:380.46px"><i>Bcepfunavirus BcepF1</i> (<i class="hl b">B. ambifaria</i>) [NC_009015]</div>
<div class="t" style="left:504px;top:380.46px">S3</div>
<div class="t" style="left:519.8px;top:380.46px">G6</div>
<div class="t" style="left:537.3px;top:380.46px">F3</div>
<div class="t" style="left:322.7px;top:389.46px"><i>Gladiolivirus Maja</i> (<i class="hl r">B. gladioli</i>) [MT708549]</div>
<div class="t" style="left:504px;top:389.46px">S6</div>
<div class="t" style="left:519.8px;top:389.46px">G6</div>
<div class="t" style="left:537.3px;top:389.46px">F3</div>
<div class="t" style="left:322.7px;top:399.46px"><i>Irusalimvirus BCSR52</i> (<i class="hl b">B. cepacia</i>) [MW460246]</div>
<div class="t" style="left:504px;top:399.46px">S5</div>
<div class="t" style="left:519.8px;top:399.46px">G6</div>
<div class="t" style="left:537.3px;top:399.46px">F3</div>
<div class="t" style="left:322.7px;top:408.46px"><i>Bglawtbvirus WTB</i> (<i class="hl r">B. gladioli</i>) [OQ735257]</div>
<div class="t" style="left:504px;top:408.46px">S11</div>
<div class="t" style="left:519.8px;top:408.46px">G6</div>
<div class="t" style="left:537.3px;top:408.46px">F3</div>
<div class="t" style="left:322.7px;top:417.46px"><i class="h" style="margin-right:-0.8px">Bglawtbvirus </i><i>BCSR129</i> (<i>Burkholderia</i>) [MW460247]</div>
<div class="t" style="left:504px;top:417.46px">S10</div>
<div class="t" style="left:519.8px;top:417.46px">G5</div>
<div class="t" style="left:537.3px;top:417.46px">F3</div>
<div class="t" style="left:322.7px;top:426.46px"><i class="h" style="margin-right:-0.8px">Bglawtbvirus </i><i>BcepB1A</i> (<i class="hl b">B. cenocepacia</i>) [NC_005886]</div>
<div class="t" style="left:504px;top:426.46px">S2</div>
<div class="t" style="left:519.8px;top:426.46px">G1</div>
<div class="t" style="left:537.3px;top:426.46px">F3</div>
<div class="t" style="left:322.7px;top:435.46px"><i class="h" style="margin-right:-0.9px">Kilunavirus </i><i>BcepGomr</i> (<i class="hl b">B. cepacia</i>) [NC_009447]</div>
<div class="t" style="left:504px;top:435.46px">S7</div>
<div class="t" style="left:519.8px;top:435.46px">G3</div>
<div class="t" style="left:537.3px;top:435.46px">F3</div>
<div class="t" style="left:322.7px;top:444.46px"><i>Kilunavirus KL1</i> (<i class="hl b">B. cenocepacia</i>) [NC_018278]</div>
<div class="t" style="left:504px;top:444.46px">S19</div>
<div class="t" style="left:519.8px;top:444.46px">G9</div>
<div class="t" style="left:537.3px;top:444.46px">F3</div>
<div class="t" style="left:322.7px;top:453.46px"><i>Ampunavirus BpAMP1</i> Bp-AMP1 (<i class="hl g">B. pseudomallei</i>) [NC_047743]</div>
<div class="t" style="left:504px;top:453.46px">S48</div>
<div class="t" style="left:519.8px;top:453.46px">G19</div>
<div class="t" style="left:537.3px;top:453.46px">F3</div>
<div class="t" style="left:322.7px;top:463.46px"><i>Ampunavirus BpAMP1</i> Bp-AMP2 (<i class="hl g">B. pseudomallei</i>) [HG796219]</div>
<div class="t" style="left:504px;top:463.46px">S48</div>
<div class="t" style="left:519.8px;top:463.46px">G19</div>
<div class="t" style="left:537.3px;top:463.46px">F3</div>
<div class="t" style="left:322.7px;top:472.46px"><i>Ampunavirus BpAMP1</i> AMP1 (<i class="hl g">B. pseudomallei</i>) [MN191861]</div>
<div class="t" style="left:504px;top:472.46px">S48</div>
<div class="t" style="left:519.8px;top:472.46px">G19</div>
<div class="t" style="left:537.3px;top:472.46px">F3</div>
<div class="t" style="left:322.7px;top:481.46px"><i>Ampunavirus BpAMP1</i> Bp-AMP4 (<i class="hl g">B. pseudomallei</i>) [HG796221]</div>
<div class="t" style="left:504px;top:481.46px">S48</div>
<div class="t" style="left:519.8px;top:481.46px">G19</div>
<div class="t" style="left:537.3px;top:481.46px">F3</div>
<div class="t" style="left:322.7px;top:490.46px"><i>Ampunavirus BpAMP1</i> Bp-AMP3 (<i class="hl g">B. pseudomallei</i>) [HG796220]</div>
<div class="t" style="left:504px;top:490.46px">S48</div>
<div class="t" style="left:519.8px;top:490.46px">G19</div>
<div class="t" style="left:537.3px;top:490.46px">F3</div>
<div class="t" style="left:322.7px;top:499.46px"><i>Pakuvirus paku</i> (<i class="hl b">B. cenocepacia</i>) [MZ326863]</div>
<div class="t" style="left:504px;top:499.46px">S38</div>
<div class="t" style="left:519.8px;top:499.46px">G19</div>
<div class="t" style="left:537.3px;top:499.46px">F3</div>
<div class="t" style="left:322.7px;top:508.46px"><i>Mguuvirus JG068</i> (<i class="hl b">B. cenocepacia</i>) [NC_022916]</div>
<div class="t" style="left:504px;top:508.46px">S31</div>
<div class="t" style="left:519.8px;top:508.46px">G19</div>
<div class="t" style="left:537.3px;top:508.46px">F3</div>
<div class="t" style="left:322.7px;top:517.46px"><i>Changmaivirus FLC8</i> (<i class="hl r">B. glumae</i>) [LC667450]</div>
<div class="t" style="left:504px;top:517.46px">S12</div>
<div class="t" style="left:519.8px;top:517.46px">G7</div>
<div class="t" style="left:537.3px;top:517.46px">F1</div>
<div class="t" style="left:322.7px;top:527.46px"><i>Changmaivirus FLC6</i> (<i class="hl r">B. glumae</i>) [LC592711]</div>
<div class="t" style="left:504px;top:527.46px">S13</div>
<div class="t" style="left:519.8px;top:527.46px">G7</div>
<div class="t" style="left:537.3px;top:527.46px">F1</div>
<div class="t" style="left:322.7px;top:536.46px"><i class="h" style="margin-right:1.1px">Changmaivirus </i><i>FLC9</i> (<i class="hl r">B. glumae</i>) [LC667451]</div>
<div class="t" style="left:504px;top:536.46px">S16</div>
<div class="t" style="left:519.8px;top:536.46px">G8</div>
<div class="t" style="left:537.3px;top:536.46px">F1</div>
<div class="t" style="left:322.7px;top:545.46px"><i>Sarumanvirus BcepSauron</i> (<i class="hl b">B. cenocepacia</i>) [NC_049851]</div>
<div class="t" style="left:504px;top:545.46px">S43</div>
<div class="t" style="left:519.8px;top:545.46px">G18</div>
<div class="t" style="left:537.3px;top:545.46px">F2</div>
<div class="t" style="left:322.7px;top:554.46px"><i>Sarumanvirus BcepSaruman</i> (<i class="hl b">B. cenocepacia</i>) [NC_049850]</div>
<div class="t" style="left:504px;top:554.46px">S42</div>
<div class="t" style="left:519.8px;top:554.46px">G18</div>
<div class="t" style="left:537.3px;top:554.46px">F2</div>
<div class="t" style="left:322.7px;top:563.46px"><i class="h" style="margin-right:-1.1px">Sarumanvirus </i><i>BCSR5</i> (<i>Burkholderia</i>) [MW4602]</div>
<div class="t" style="left:504px;top:563.46px">S4</div>
<div class="t" style="left:519.8px;top:563.46px">G2</div>
<div class="t" style="left:537.3px;top:563.46px">F2</div>
<div style="position:absolute;left:497.5px;top:588.2px;font-size:6.6px;line-height:7px;font-weight:bold;color:#000;-webkit-text-stroke:0.3px #000;white-space:nowrap;transform-origin:0 100%;transform:rotate(-60deg)">Species</div>
<div style="position:absolute;left:516.5px;top:586.1px;font-size:6.6px;line-height:7px;font-weight:bold;color:#000;-webkit-text-stroke:0.3px #000;white-space:nowrap;transform-origin:0 100%;transform:rotate(-60deg)">Genus</div>
<div style="position:absolute;left:534.0px;top:585.6px;font-size:6.6px;line-height:7px;font-weight:bold;color:#000;-webkit-text-stroke:0.3px #000;white-space:nowrap;transform-origin:0 100%;transform:rotate(-60deg)">Family</div>
<div style="position:absolute;left:16px;top:581px;width:94px;height:5px;background:#abe1f4"></div>
<div style="position:absolute;left:135px;top:581px;width:94px;height:5px;background:#b3f0a6"></div>
<div style="position:absolute;left:260px;top:581px;width:94px;height:5px;background:#f0939c"></div>
<div style="position:absolute;top:588.0px;font-size:6.7px;line-height:7px;font-weight:bold;color:#111;-webkit-text-stroke:0.15px #111;white-space:nowrap;left:15px"><i>Burkholderia cepacia</i> complex</div>
<div style="position:absolute;top:588.0px;font-size:6.7px;line-height:7px;font-weight:bold;color:#111;-webkit-text-stroke:0.15px #111;white-space:nowrap;left:126px"><i>Burkholderia pseudomallei</i> complex</div>
<div style="position:absolute;top:588.0px;font-size:6.7px;line-height:7px;font-weight:bold;color:#111;-webkit-text-stroke:0.15px #111;white-space:nowrap;left:259px"><i>Burkholderia glumae</i> complex</div>
</body></html>
